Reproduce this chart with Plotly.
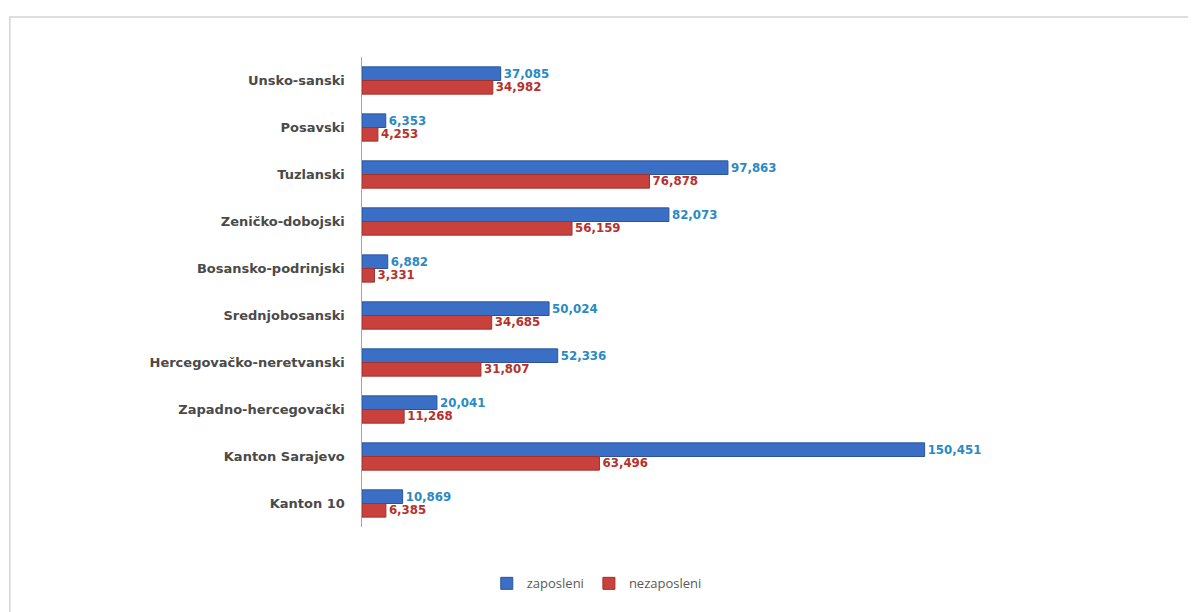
import plotly.graph_objects as go

categories = ["Unsko-sanski", "Posavski", "Tuzlanski", "Zeničko-dobojski",
              "Bosansko-podrinjski", "Srednjobosanski", "Hercegovačko-neretvanski",
              "Zapadno-hercegovački", "Kanton Sarajevo", "Kanton 10"]
zaposleni = [37085, 6353, 97863, 82073, 6882, 50024, 52336, 20041, 150451, 10869]
nezaposleni = [34982, 4253, 76878, 56159, 3331, 34685, 31807, 11268, 63496, 6385]

fig = go.Figure()
fig.add_trace(go.Bar(
    y=categories, x=zaposleni, orientation="h", name="zaposleni",
    marker=dict(color="#3B6FC6", line=dict(color="#2A559E", width=1)),
    text=[f"{v:,}" for v in zaposleni], textposition="outside",
    textfont=dict(family="DejaVu Sans", size=13, color="#2A8AC4", weight="bold"),
    cliponaxis=False,
))
fig.add_trace(go.Bar(
    y=categories, x=nezaposleni, orientation="h", name="nezaposleni",
    marker=dict(color="#C9413D", line=dict(color="#A0302C", width=1)),
    text=[f"{v:,}" for v in nezaposleni], textposition="outside",
    textfont=dict(family="DejaVu Sans", size=13, color="#B8302C", weight="bold"),
    cliponaxis=False,
))

fig.update_layout(
    width=1188, height=604,
    paper_bgcolor="white", plot_bgcolor="white",
    margin=dict(l=354, r=30, t=49, b=85),
    barmode="group", bargap=0.42, bargroupgap=0.0,
    showlegend=True,
    legend=dict(orientation="h", x=0.292, xanchor="center", y=-0.12, yanchor="middle",
                font=dict(family="Open Sans", size=13, color="#595959"),
                itemwidth=30, traceorder="normal"),
    shapes=[dict(type="rect", xref="paper", yref="paper",
                 x0=-0.438, x1=1.036, y0=-0.3, y1=1.085,
                 line=dict(color="#D4D4D4", width=1.5), layer="below")],
)
fig.update_xaxes(range=[0, 215000], showgrid=False, zeroline=False,
                 showticklabels=False, showline=False)
fig.update_yaxes(autorange="reversed", showgrid=False, zeroline=False,
                 showline=True, linecolor="#A6A6A6", linewidth=1,
                 ticks="", ticksuffix="   ",
                 tickfont=dict(family="DejaVu Sans", size=13, color="#4A4A4A", weight="bold"))

fig.write_html("out.html")
